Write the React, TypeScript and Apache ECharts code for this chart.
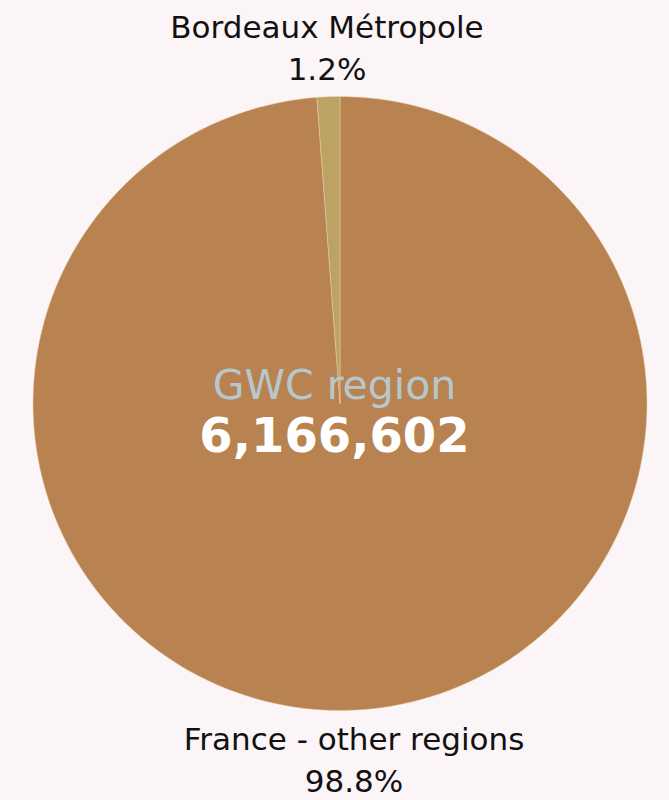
import React, { useEffect, useRef } from "react";
import * as echarts from "echarts";

const categories = ["France - other regions", "Bordeaux Métropole"];
const values = [6092602, 74000];
const centerTitle = "GWC region";
const sliceColors = ["#b88351", "#bca263"];

const FONT = "'DejaVu Sans', sans-serif";

export default function App() {
  const ref = useRef<HTMLDivElement>(null);
  useEffect(() => {
    if (!ref.current) return;
    const chart = echarts.init(ref.current, undefined, { renderer: "svg" });
    const total = values.reduce((a, b) => a + b, 0);
    const labelPos = [
      { x: 354, y: 760 },
      { x: 327, y: 48 },
    ];
    chart.setOption({
      animation: false,
      backgroundColor: "#fcf5f7",
      graphic: [
        {
          type: "text",
          left: "center",
          top: 364,
          style: {
            text: centerTitle,
            fill: "#b6c8cc",
            font: `41px ${FONT}`,
            lineHeight: 40,
          },
          z: 100,
        },
        {
          type: "text",
          left: "center",
          top: 411,
          style: {
            text: total.toLocaleString("en-US"),
            fill: "#ffffff",
            font: `bold 48px ${FONT}`,
            lineHeight: 46,
          },
          z: 100,
        },
      ],
      series: [
        {
          type: "pie",
          center: [340, 403.5],
          radius: [0, 307],
          startAngle: 90,
          clockwise: true,
          percentPrecision: 1,
          label: {
            show: true,
            formatter: "{b}\n{d}%",
            fontFamily: FONT,
            fontSize: 31,
            lineHeight: 42,
            color: "#111111",
            align: "center",
            overflow: "none",
            width: 600,
          },
          labelLine: { show: false },
          labelLayout: (params: any) => ({
            x: labelPos[params.dataIndex].x,
            y: labelPos[params.dataIndex].y,
            align: "center",
            verticalAlign: "middle",
          }),
          emphasis: { disabled: true },
          itemStyle: { borderColor: "#e8cfa8", borderWidth: 0.5 },
          data: categories.map((c, i) => ({
            name: c,
            value: values[i],
            itemStyle: { color: sliceColors[i] },
          })),
        },
      ],
    });
    return () => chart.dispose();
  }, []);
  return (
    <div
      ref={ref}
      style={{ position: "fixed", left: 0, top: 0, width: 669, height: 800 }}
    />
  );
}
